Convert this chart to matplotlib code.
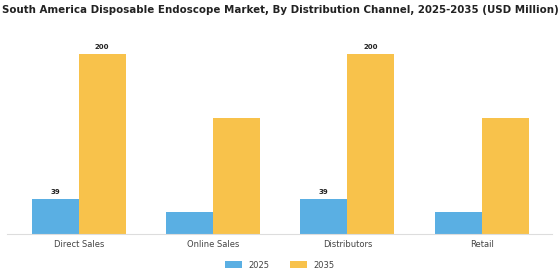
import numpy as np
import matplotlib
matplotlib.use("Agg")
import matplotlib.pyplot as plt

categories = ["Direct Sales", "Online Sales", "Distributors", "Retail"]
series_names = ["2025", "2035"]
values_2025 = [39, 25, 39, 25]
values_2035 = [200, 129, 200, 129]
shown_2025 = [True, False, True, False]
shown_2035 = [True, False, True, False]

colors = ["#5AAFE3", "#F8C24B"]

fig = plt.figure(figsize=(5.6, 2.8), dpi=100)
ax = fig.add_axes([7 / 560, 1 - 234 / 280, 545 / 560, 198 / 280])

x = np.arange(len(categories))
w = 0.35
b1 = ax.bar(x - w / 2, values_2025, w, color=colors[0], label=series_names[0])
b2 = ax.bar(x + w / 2, values_2035, w, color=colors[1], label=series_names[1])

# labels only on some bars
for bars, vals, shown in [(b1, values_2025, shown_2025), (b2, values_2035, shown_2035)]:
    for rect, v, s in zip(bars, vals, shown):
        if s:
            ax.annotate(str(v), (rect.get_x() + rect.get_width() / 2, v),
                        xytext=(0, 3), textcoords="offset points",
                        ha="center", va="bottom", fontsize=5, fontweight="bold",
                        color="#222222")

ax.set_xlim(-0.534, 3.524)
ax.set_ylim(0, 220)
ax.set_xticks(x)
ax.set_xticklabels(categories, fontsize=6, color="#444444")
ax.tick_params(axis="x", length=0, pad=4)
ax.set_yticks([])
for side in ["top", "right", "left"]:
    ax.spines[side].set_visible(False)
ax.spines["bottom"].set_color("#dddddd")
ax.spines["bottom"].set_linewidth(0.8)

fig.text(0.5, 1 - 10 / 280, "South America Disposable Endoscope Market, By Distribution Channel, 2025-2035 (USD Million)",
         ha="center", va="center", fontsize=7.35, fontweight="bold", color="#222222")

fig.legend(handles=[b1, b2], labels=series_names, loc="center",
           bbox_to_anchor=(0.5, 1 - 265 / 280), ncol=2, frameon=False,
           fontsize=6, handlelength=2.0, handleheight=0.8, columnspacing=2.5,
           labelcolor="#444444")

fig.savefig("out.png", dpi=100)
